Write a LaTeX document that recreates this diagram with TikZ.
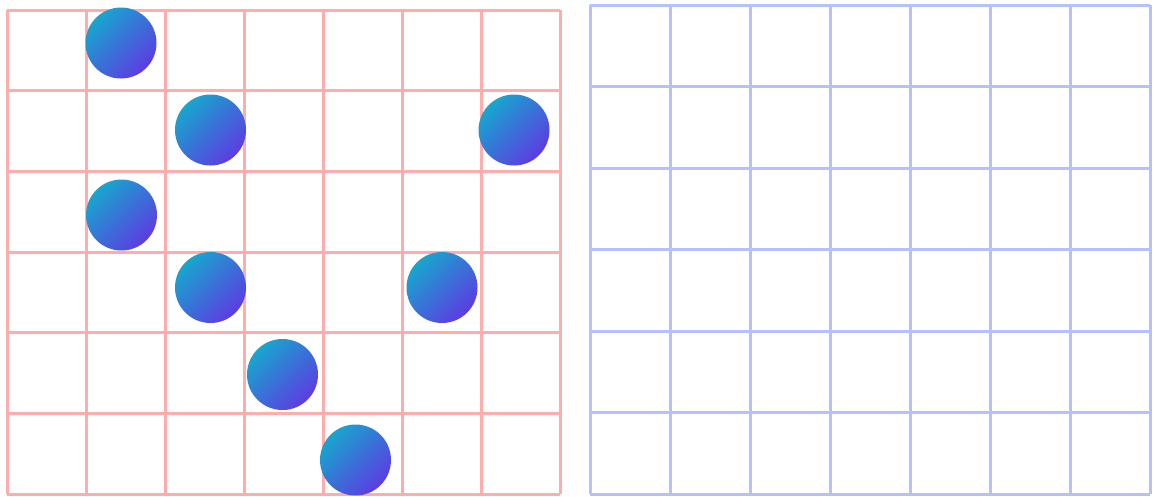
\documentclass[tikz,border=0pt]{standalone}
\usetikzlibrary{calc}
\definecolor{gridred}{RGB}{255,172,172}
\definecolor{gridblue}{RGB}{182,192,255}
\definecolor{ballcyan}{RGB}{24,166,206}
\definecolor{ballpurple}{RGB}{92,60,226}
\tikzset{
  redgrid/.style={draw=gridred,line width=3pt},
  bluegrid/.style={draw=gridblue,line width=3pt},
  ball/.style={circle,minimum size=71pt,inner sep=0pt,
    top color=ballcyan,bottom color=ballpurple,shading angle=45}
}
\begin{document}
\begin{tikzpicture}[x=1pt,y=-1pt]
\useasboundingbox (0,0) rectangle (1154,496);
% left grid
\foreach \k in {0,...,7} \draw[redgrid] ({7+79*\k},10) -- ({7+79*\k},494);
\foreach \k in {0,...,6} \draw[redgrid] (7,{10+80.667*\k}) -- (560,{10+80.667*\k});
% right grid
\foreach \k in {0,...,7} \draw[bluegrid] ({590+80*\k},5) -- ({590+80*\k},494);
\foreach \k in {0,...,6} \draw[bluegrid] (590,{5+81.5*\k}) -- (1150,{5+81.5*\k});
% balls
\node[ball] (b1) at (121,43) {};
\node[ball] (b2) at (210.5,130) {};
\node[ball] (b3) at (514,130) {};
\node[ball] (b4) at (121.5,215) {};
\node[ball] (b5) at (210.5,287.5) {};
\node[ball] (b6) at (442,287.5) {};
\node[ball] (b7) at (282.5,374.5) {};
\node[ball] (b8) at (355.5,460) {};
\end{tikzpicture}
\end{document}
